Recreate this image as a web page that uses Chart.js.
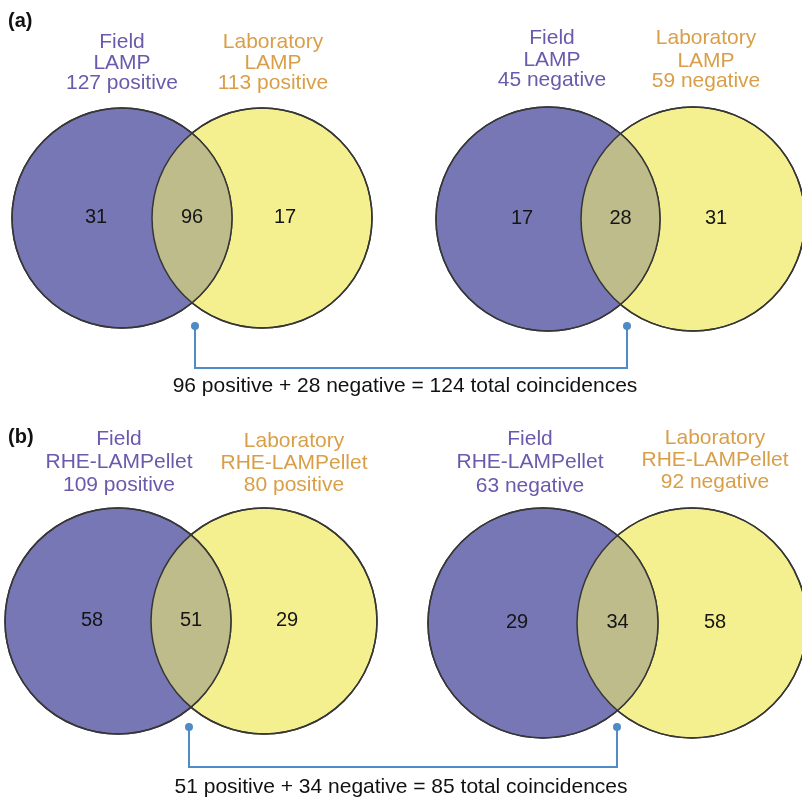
<!DOCTYPE html>
<html>
<head>
<meta charset="utf-8">
<script src="https://cdn.jsdelivr.net/npm/chart.js@4/dist/chart.umd.min.js"></script>
<style>
  html, body { margin: 0; padding: 0; background: #ffffff; }
  #wrap { position: relative; width: 802px; height: 803px; }
</style>
</head>
<body>
<div id="wrap"><canvas id="venn"></canvas></div>
<script>
// ---- data ----
const panelTags = ['(a)', '(b)'];
const methods = ['LAMP', 'LAMP', 'RHE-LAMPellet', 'RHE-LAMPellet'];
const outcomes = ['positive', 'negative', 'positive', 'negative'];
const fieldOnly = [31, 17, 58, 29];
const shared = [96, 28, 51, 34];
const labOnly = [17, 31, 29, 58];

// ---- layout (pixel space of the full canvas) ----
const fieldCenters = [[122, 218], [548, 219], [118, 621], [543, 623]];
const labCenters = [[262, 218], [693, 219], [264, 621], [692, 623]];
const circleRadius = [110, 112, 113, 115];
const fieldHeads = [[122, [42, 63, 83]], [552, [38, 60, 80]], [119, [439, 462, 485]], [530, [439, 462, 486]]];
const labHeads = [[273, [42, 63, 83]], [706, [38, 61, 81]], [294, [441, 463, 485]], [715, [438, 460, 482]]];
const linkX = [[195, 627], [189, 617]];
const linkDotY = [326, 727];
const linkBarY = [368, 767];
const summaryPos = [[405, 386], [401, 787]];
const tagPos = [[8, 21], [8, 437]];

const BLUE = '#7677b4', YELLOW = '#f5f08f', LENS = '#bebc8a';
const PURPLE = '#6b5aac', ORANGE = '#d99f48', EDGE = '#363636', LINK = '#4f8cc6';
const FONT = '"Liberation Sans", Arial, Helvetica, sans-serif';

const fieldPoints = fieldCenters.map((c, i) => ({ x: c[0], y: c[1], r: circleRadius[i] }));
const labPoints = labCenters.map((c, i) => ({ x: c[0], y: c[1], r: circleRadius[i] }));

function circlePath(ctx, el) {
  ctx.beginPath();
  ctx.arc(el.x, el.y, el.options.radius, 0, Math.PI * 2);
}

const vennOverlay = {
  id: 'vennOverlay',
  afterDatasetsDraw(chart) {
    const ctx = chart.ctx;
    const xs = chart.scales.x, ys = chart.scales.y;
    const fMeta = chart.getDatasetMeta(0).data;
    const lMeta = chart.getDatasetMeta(1).data;

    fMeta.forEach((fEl, i) => {
      const lEl = lMeta[i];
      // overlap lens
      ctx.save();
      circlePath(ctx, fEl);
      ctx.clip();
      circlePath(ctx, lEl);
      ctx.fillStyle = LENS;
      ctx.fill();
      ctx.restore();
      // outlines on top
      ctx.save();
      ctx.lineWidth = 1.5;
      ctx.strokeStyle = EDGE;
      circlePath(ctx, fEl); ctx.stroke();
      circlePath(ctx, lEl); ctx.stroke();
      ctx.restore();

      // region counts
      ctx.save();
      ctx.font = '20px ' + FONT;
      ctx.fillStyle = '#151515';
      ctx.textAlign = 'center';
      ctx.textBaseline = 'middle';
      const cy = (fEl.y + lEl.y) / 2 - 1;
      ctx.fillText(String(fieldOnly[i]), fEl.x - 26, cy);
      ctx.fillText(String(shared[i]), (fEl.x + lEl.x) / 2, cy);
      ctx.fillText(String(labOnly[i]), lEl.x + 23, cy);
      ctx.restore();

      // headings
      const fTotal = fieldOnly[i] + shared[i];
      const lTotal = shared[i] + labOnly[i];
      ctx.save();
      ctx.font = '21px ' + FONT;
      ctx.textAlign = 'center';
      ctx.textBaseline = 'middle';
      const fl = ['Field', methods[i], fTotal + ' ' + outcomes[i]];
      const ll = ['Laboratory', methods[i], lTotal + ' ' + outcomes[i]];
      ctx.fillStyle = PURPLE;
      fl.forEach((t, k) => ctx.fillText(t, xs.getPixelForValue(fieldHeads[i][0]), ys.getPixelForValue(fieldHeads[i][1][k])));
      ctx.fillStyle = ORANGE;
      ll.forEach((t, k) => ctx.fillText(t, xs.getPixelForValue(labHeads[i][0]), ys.getPixelForValue(labHeads[i][1][k])));
      ctx.restore();
    });

    // panel connectors and summaries
    panelTags.forEach((tag, p) => {
      const pos = shared[2 * p], neg = shared[2 * p + 1];
      const x0 = xs.getPixelForValue(linkX[p][0]), x1 = xs.getPixelForValue(linkX[p][1]);
      const yd = ys.getPixelForValue(linkDotY[p]), yb = ys.getPixelForValue(linkBarY[p]);
      ctx.save();
      ctx.strokeStyle = LINK;
      ctx.fillStyle = LINK;
      ctx.lineWidth = 2;
      ctx.beginPath();
      ctx.moveTo(x0, yd); ctx.lineTo(x0, yb); ctx.lineTo(x1, yb); ctx.lineTo(x1, yd);
      ctx.stroke();
      [x0, x1].forEach(x => { ctx.beginPath(); ctx.arc(x, yd, 4, 0, Math.PI * 2); ctx.fill(); });
      ctx.restore();

      ctx.save();
      ctx.font = '21px ' + FONT;
      ctx.fillStyle = '#111111';
      ctx.textAlign = 'center';
      ctx.textBaseline = 'middle';
      ctx.fillText(pos + ' positive + ' + neg + ' negative = ' + (pos + neg) + ' total coincidences',
        xs.getPixelForValue(summaryPos[p][0]), ys.getPixelForValue(summaryPos[p][1]));
      ctx.font = 'bold 20px ' + FONT;
      ctx.textAlign = 'left';
      ctx.fillText(tag, xs.getPixelForValue(tagPos[p][0]), ys.getPixelForValue(tagPos[p][1]));
      ctx.restore();
    });
  }
};

new Chart(document.getElementById('venn'), {
  type: 'bubble',
  data: {
    datasets: [
      { label: 'Field', data: fieldPoints, backgroundColor: BLUE, borderColor: EDGE, borderWidth: 1.5, hoverRadius: 0, clip: false },
      { label: 'Laboratory', data: labPoints, backgroundColor: YELLOW, borderColor: EDGE, borderWidth: 1.5, hoverRadius: 0, clip: false }
    ]
  },
  options: {
    responsive: true,
    maintainAspectRatio: false,
    animation: false,
    events: [],
    layout: { padding: 0, autoPadding: false },
    plugins: { legend: { display: false }, tooltip: { enabled: false } },
    scales: {
      x: { type: 'linear', min: 0, max: 802, display: false },
      y: { type: 'linear', min: 0, max: 803, reverse: true, display: false }
    }
  },
  plugins: [vennOverlay]
});
</script>
</body>
</html>
